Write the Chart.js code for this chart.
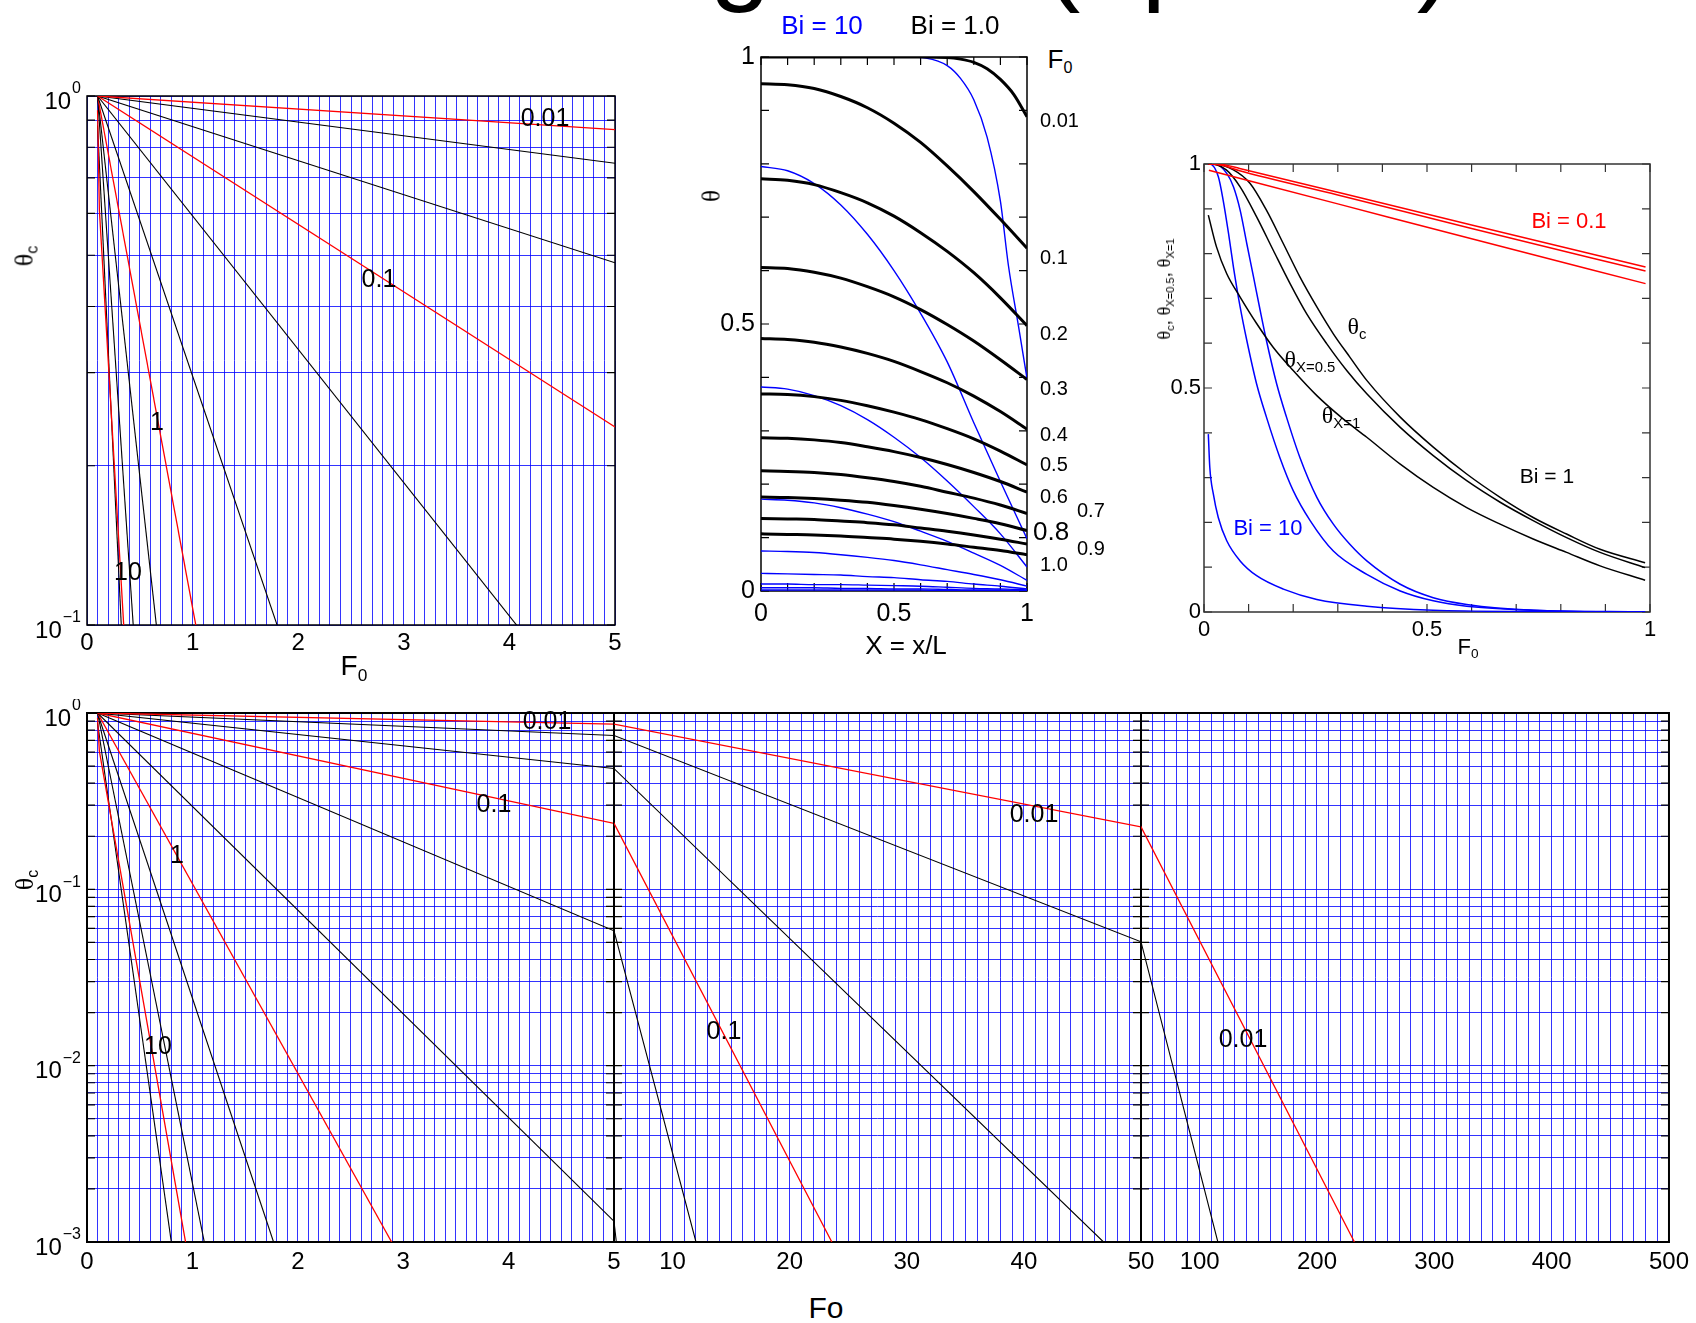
<!DOCTYPE html>
<html lang="fr">
<head>
<meta charset="utf-8">
<title>Diagrammes de Heisler - plaque</title>
<script src="https://cdn.jsdelivr.net/npm/chart.js@4.4.1/dist/chart.umd.min.js"></script>
<style>
  html, body { margin: 0; padding: 0; background: #fff; }
  body { position: relative; width: 1696px; height: 1323px; overflow: hidden;
         font-family: "Liberation Sans", Arial, Helvetica, sans-serif; color: #000; }
  .bloc { position: absolute; }
  .txt { position: absolute; white-space: nowrap; line-height: 1; transform: translate(-50%, -50%); }
  .gr { font-family: "Liberation Serif", "DejaVu Serif", serif; }
  .sb { font-size: 0.62em; position: relative; top: 0.32em; }
  #titre { position: absolute; left: 398px; top: -103px; font-size: 110px; line-height: 1;
           white-space: nowrap; word-spacing: 11px; }
</style>
</head>
<body>
<div id="titre">Cooling Plot (update)</div>
<script>
Chart.defaults.font.family = '"Liberation Sans", Arial, Helvetica, sans-serif';
Chart.defaults.color = '#000';

const ROUGE = '#ff0000';
const NOIR = '#000000';
const BLEU = '#0000ff';
const GRILLE = 'rgba(0, 0, 255, 0.8)';

// semi-log : θc en fonction de Fo, une droite par Bi
const foBi001 = [0.1, 5, 50, 231.9];  const thBi001 = [1, 0.864, 0.226, 0.001];
const foBi002 = [0.1, 5, 50, 115.5];  const thBi002 = [1, 0.746, 0.0504, 0.001];
const foBi005 = [0.1, 5, 46.8];       const thBi005 = [1, 0.484, 0.001];
const foBi01 = [0.1, 5, 23.6];        const thBi01 = [1, 0.2367, 0.001];
const foBi02 = [0.1, 5, 12.0];        const thBi02 = [1, 0.0582, 0.001];
const foBi05 = [0.1, 5.2];            const thBi05 = [1, 0.001];
const foBi1 = [0.1, 2.89];            const thBi1 = [1, 0.001];
const foBi2 = [0.1, 1.77];            const thBi2 = [1, 0.001];
const foBi5 = [0.1, 1.113];           const thBi5 = [1, 0.001];
const foBi10 = [0.1, 0.117, 0.935];   const thBi10 = [0.94, 0.61, 0.001];
const foBi100 = [0.1, 0.80];          const thBi100 = [0.88, 0.001];

const etiqFoCourt = [0, 1, 2, 3, 4, 5];
const etiqFoMoyen = [10, 20, 30, 40, 50];
const etiqFoLong = [100, 200, 300, 400, 500];
const decadesHaut = [1, 0.1];               const exposantsHaut = ['0', '\u22121'];
const decadesBas = [1, 0.1, 0.01, 0.001];   const exposantsBas = ['0', '\u22121', '\u22122', '\u22123'];

// profils θ(X) au milieu : Bi = 1.0 (noir) et Bi = 10 (bleu)
const posX = [0, 0.1, 0.2, 0.3, 0.4, 0.5, 0.6, 0.7, 0.8, 0.9, 1];
const posXN001 = [0, 0.5, 0.6, 0.7, 0.75, 0.8, 0.85, 0.9, 0.95, 1];
const pN001 = [1, 1, 1, 0.999, 0.996, 0.99, 0.978, 0.958, 0.93, 0.888];
const pN01 = [0.950, 0.948, 0.941, 0.926, 0.905, 0.876, 0.840, 0.796, 0.748, 0.696, 0.642];
const pN02 = [0.772, 0.769, 0.761, 0.746, 0.727, 0.702, 0.671, 0.636, 0.596, 0.549, 0.497];
const pN03 = [0.606, 0.604, 0.597, 0.586, 0.570, 0.551, 0.527, 0.499, 0.468, 0.433, 0.396];
const pN04 = [0.473, 0.471, 0.466, 0.457, 0.445, 0.430, 0.411, 0.390, 0.365, 0.336, 0.303];
const pN05 = [0.369, 0.368, 0.364, 0.357, 0.347, 0.335, 0.321, 0.304, 0.285, 0.262, 0.236];
const pN06 = [0.287, 0.286, 0.283, 0.278, 0.270, 0.261, 0.250, 0.237, 0.222, 0.205, 0.185];
const pN07 = [0.225, 0.224, 0.222, 0.218, 0.212, 0.205, 0.196, 0.185, 0.174, 0.161, 0.145];
const pN08 = [0.176, 0.175, 0.173, 0.170, 0.166, 0.160, 0.153, 0.145, 0.136, 0.126, 0.113];
const pN09 = [0.136, 0.135, 0.134, 0.131, 0.128, 0.124, 0.118, 0.112, 0.105, 0.097, 0.088];
const pN10 = [0.107, 0.106, 0.105, 0.103, 0.100, 0.097, 0.093, 0.088, 0.082, 0.076, 0.068];
const posXB001 = [0, 0.55, 0.62, 0.7, 0.75, 0.8, 0.85, 0.9, 0.93, 0.97, 1];
const pB001 = [1, 1, 0.998, 0.984, 0.96, 0.92, 0.85, 0.73, 0.61, 0.49, 0.398];
const pB01 = [0.795, 0.787, 0.763, 0.723, 0.668, 0.600, 0.520, 0.429, 0.315, 0.205, 0.098];
const pB02 = [0.382, 0.378, 0.366, 0.347, 0.321, 0.288, 0.250, 0.206, 0.158, 0.107, 0.045];
const pB03 = [0.172, 0.170, 0.165, 0.156, 0.144, 0.130, 0.112, 0.093, 0.071, 0.048, 0.020];
const pB04 = [0.075, 0.074, 0.072, 0.068, 0.063, 0.057, 0.049, 0.040, 0.031, 0.021, 0.009];
const pB05 = [0.033, 0.032, 0.031, 0.030, 0.027, 0.025, 0.021, 0.018, 0.013, 0.009, 0.004];
const pB06 = [0.013, 0.013, 0.012, 0.012, 0.011, 0.010, 0.009, 0.007, 0.005, 0.004, 0.002];
const pB07 = [0.006, 0.006, 0.006, 0.005, 0.005, 0.004, 0.004, 0.003, 0.002, 0.002, 0.001];
const pB08 = [0.002, 0.002, 0.002, 0.002, 0.002, 0.002, 0.002, 0.001, 0.001, 0.001, 0.000];

// à droite : θc, θX=0.5, θX=1 en fonction de F0
const foRc = [0.01, 0.04, 0.08, 0.3, 0.6, 0.99];   const thRc = [1.0, 0.999, 0.99, 0.937, 0.864, 0.770];
const foR05 = [0.01, 0.04, 0.08, 0.3, 0.6, 0.99];  const thR05 = [1.0, 0.997, 0.985, 0.931, 0.856, 0.761];
const foR1 = [0.011, 0.3, 0.6, 0.99];              const thR1 = [0.986, 0.911, 0.833, 0.733];
const foNc = [0.01, 0.021, 0.066, 0.103, 0.14, 0.178, 0.215, 0.253, 0.29, 0.327, 0.365, 0.44, 0.514, 0.589, 0.664, 0.738, 0.813, 0.888, 0.989];
const thNc = [1.0, 1.0, 0.987, 0.957, 0.897, 0.822, 0.748, 0.681, 0.621, 0.569, 0.517, 0.435, 0.368, 0.308, 0.256, 0.211, 0.174, 0.140, 0.110];
const foN05 = [0.01, 0.013, 0.05, 0.081, 0.118, 0.155, 0.193, 0.23, 0.275, 0.32, 0.365, 0.44, 0.514, 0.589, 0.664, 0.738, 0.813, 0.888, 0.989];
const thN05 = [1.0, 1.0, 0.987, 0.949, 0.882, 0.808, 0.733, 0.666, 0.599, 0.539, 0.487, 0.412, 0.349, 0.293, 0.245, 0.204, 0.166, 0.133, 0.099];
const foN1 = [0.0097, 0.028, 0.051, 0.081, 0.118, 0.155, 0.2, 0.253, 0.312, 0.365, 0.44, 0.514, 0.589, 0.664, 0.738, 0.813, 0.888, 0.989];
const thN1 = [0.886, 0.815, 0.755, 0.703, 0.644, 0.591, 0.539, 0.483, 0.431, 0.39, 0.33, 0.278, 0.233, 0.196, 0.163, 0.133, 0.103, 0.071];
const foBc = [0.01, 0.025, 0.051, 0.066, 0.081, 0.096, 0.111, 0.126, 0.14, 0.163, 0.185, 0.215, 0.253, 0.29, 0.327, 0.365, 0.44, 0.514, 0.589, 0.738, 0.989];
const thBc = [1.0, 1.0, 0.979, 0.949, 0.897, 0.822, 0.748, 0.673, 0.606, 0.509, 0.435, 0.345, 0.256, 0.196, 0.151, 0.114, 0.062, 0.032, 0.017, 0.004, 0.0];
const foB05 = [0.01, 0.013, 0.032, 0.043, 0.055, 0.066, 0.081, 0.096, 0.118, 0.14, 0.17, 0.2, 0.238, 0.29, 0.365, 0.44, 0.514, 0.589, 0.738, 0.989];
const thB05 = [1.0, 1.0, 0.972, 0.919, 0.845, 0.77, 0.681, 0.606, 0.509, 0.435, 0.345, 0.271, 0.204, 0.136, 0.084, 0.047, 0.025, 0.013, 0.004, 0.0];
const foB1 = [0.0097, 0.013, 0.021, 0.032, 0.051, 0.081, 0.118, 0.178, 0.253, 0.365, 0.514, 0.738, 0.989];
const thB1 = [0.397, 0.323, 0.263, 0.211, 0.159, 0.114, 0.081, 0.051, 0.028, 0.013, 0.004, 0.001, 0.0];

function grille(debut, fin, pas) {
  const n = Math.round((fin - debut) / pas);
  return Array.from({ length: n + 1 }, (_, i) => +(debut + i * pas).toFixed(4));
}
function grilleLog(decMin, decMax) {
  const t = [];
  for (let d = decMin; d < decMax; d++) {
    for (let k = 1; k <= 9; k++) t.push(+(k * Math.pow(10, d)).toPrecision(3));
  }
  t.push(Math.pow(10, decMax));
  return t;
}

function trace(xs, ys, couleur, epaisseur, lisse) {
  return {
    data: xs.map((x, i) => ({ x, y: ys[i] })),
    showLine: true, borderColor: couleur, borderWidth: epaisseur,
    pointRadius: 0, fill: false,
    cubicInterpolationMode: lisse ? 'monotone' : 'default', tension: 0
  };
}

function droitesLog() {
  return [
    trace(foBi001, thBi001, ROUGE, 1.3), trace(foBi002, thBi002, NOIR, 1.1),
    trace(foBi005, thBi005, NOIR, 1.1), trace(foBi01, thBi01, ROUGE, 1.3),
    trace(foBi02, thBi02, NOIR, 1.1), trace(foBi05, thBi05, NOIR, 1.1),
    trace(foBi1, thBi1, ROUGE, 1.3), trace(foBi2, thBi2, NOIR, 1.1),
    trace(foBi5, thBi5, NOIR, 1.1), trace(foBi10, thBi10, ROUGE, 1.3),
    trace(foBi100, thBi100, NOIR, 1.1)
  ];
}

// cadre noir, petites graduations intérieures et étiquettes 10^n
const cadrePlugin = {
  id: 'cadre',
  beforeDatasetsDraw(chart, args, o) {
    const { ctx, chartArea: a } = chart;
    ctx.save();
    ctx.strokeStyle = o.couleur || '#000';
    ctx.lineWidth = o.epaisseur || 1.5;
    ctx.strokeRect(a.left, a.top, a.right - a.left, a.bottom - a.top);
    const L = o.longueur || 8;
    ctx.lineWidth = 1.2;
    ctx.beginPath();
    (o.ticksY || []).forEach(v => {
      const p = chart.scales.y.getPixelForValue(v);
      ctx.moveTo(a.left, p); ctx.lineTo(a.left + L, p);
      ctx.moveTo(a.right, p); ctx.lineTo(a.right - L, p);
    });
    (o.ticksX || []).forEach(v => {
      const p = chart.scales.x.getPixelForValue(v);
      ctx.moveTo(p, a.top); ctx.lineTo(p, a.top + L);
      ctx.moveTo(p, a.bottom); ctx.lineTo(p, a.bottom - L);
    });
    ctx.stroke();
    if (o.decades) {
      ctx.fillStyle = '#000';
      ctx.textBaseline = 'middle';
      o.decades.forEach((v, i) => {
        const p = chart.scales.y.getPixelForValue(v);
        const e = o.exposants[i];
        ctx.font = '16px "Liberation Sans", Arial, sans-serif';
        const xe = a.left - 6 - ctx.measureText(e).width;
        ctx.textAlign = 'left';
        ctx.fillText(e, xe, p - 7);
        ctx.font = '24px "Liberation Sans", Arial, sans-serif';
        ctx.textAlign = 'right';
        ctx.fillText('10', xe - 1, p + 6);
      });
    }
    ctx.restore();
  }
};

function axeLineaire(min, max, valeurs, etiquettes, taille, ecart, grilleVisible) {
  return {
    type: 'linear', min, max,
    afterBuildTicks: s => { s.ticks = valeurs.map(v => ({ value: v })); },
    ticks: {
      autoSkip: false, maxRotation: 0, minRotation: 0, font: { size: taille }, padding: ecart,
      callback: v => etiquettes.includes(v) ? String(v) : ''
    },
    grid: { display: grilleVisible, color: GRILLE, lineWidth: 1, drawTicks: false },
    border: { display: false }
  };
}
function axeLog(min, max, valeurs) {
  return {
    type: 'logarithmic', min, max,
    afterBuildTicks: s => { s.ticks = valeurs.map(v => ({ value: v })); },
    ticks: { display: false },
    grid: { color: GRILLE, lineWidth: 1, drawTicks: false },
    border: { display: false }
  };
}

function graphique(cadre, marge, datasets, axeX, axeY, optCadre) {
  const div = document.createElement('div');
  div.className = 'bloc';
  div.style.left = (cadre.g - marge.g) + 'px';
  div.style.top = (cadre.h - marge.h) + 'px';
  div.style.width = (cadre.d - cadre.g + marge.g + marge.d) + 'px';
  div.style.height = (cadre.b - cadre.h + marge.h + marge.b) + 'px';
  const canvas = document.createElement('canvas');
  div.appendChild(canvas);
  document.body.appendChild(div);
  return new Chart(canvas, {
    type: 'scatter',
    data: { datasets },
    options: {
      responsive: true,
      maintainAspectRatio: false,
      animation: false,
      events: [],
      layout: { padding: { left: 0, top: marge.h, right: marge.d, bottom: 0 } },
      plugins: { legend: { display: false }, tooltip: { enabled: false }, cadre: optCadre },
      scales: {
        x: Object.assign({ afterFit: s => { s.height = marge.b; } }, axeX),
        y: Object.assign({ afterFit: s => { s.width = marge.g; } }, axeY)
      }
    },
    plugins: [cadrePlugin]
  });
}

function texte(html, x, y, taille, couleur, rotation, gauche) {
  const d = document.createElement('div');
  d.className = 'txt';
  d.innerHTML = html;
  d.style.left = x + 'px';
  d.style.top = y + 'px';
  d.style.fontSize = taille + 'px';
  d.style.color = couleur || '#000';
  if (gauche) d.style.transform = 'translate(0, -50%)';
  if (rotation) d.style.transform = 'translate(-50%, -50%) rotate(' + rotation + 'deg)';
  document.body.appendChild(d);
}

// ---- en haut à gauche : semi-log 0..5
const grilleY1 = grilleLog(-1, 0);
graphique({ g: 87, h: 96, d: 615, b: 625 }, { g: 87, h: 20, d: 20, b: 45 }, droitesLog(),
  axeLineaire(0, 5, grille(0, 5, 0.1), etiqFoCourt, 24, 4, true),
  axeLog(0.1, 1, grilleY1),
  { ticksY: grilleY1, decades: decadesHaut, exposants: exposantsHaut });

// ---- en bas : trois tronçons 0-5, 5-50, 50-500
const grilleY2 = grilleLog(-3, 0);
graphique({ g: 87, h: 713, d: 614, b: 1242 }, { g: 87, h: 14, d: 16, b: 45 }, droitesLog(),
  axeLineaire(0, 5, grille(0, 5, 0.1), etiqFoCourt, 24, 6, true),
  axeLog(0.001, 1, grilleY2),
  { epaisseur: 2, ticksY: grilleY2, decades: decadesBas, exposants: exposantsBas });
graphique({ g: 614, h: 713, d: 1141, b: 1242 }, { g: 10, h: 14, d: 24, b: 45 }, droitesLog(),
  axeLineaire(5, 50, grille(5, 50, 1), etiqFoMoyen, 24, 6, true),
  axeLog(0.001, 1, grilleY2),
  { epaisseur: 2, ticksY: grilleY2 });
graphique({ g: 1141, h: 713, d: 1671, b: 1242 }, { g: 10, h: 14, d: 24, b: 45 }, droitesLog(),
  axeLineaire(50, 500, grille(50, 500, 10), etiqFoLong, 24, 6, true),
  axeLog(0.001, 1, grilleY2),
  { epaisseur: 2, ticksY: grilleY2 });

// ---- au milieu : profils θ(X)
const profilsNoirs = [pN01, pN02, pN03, pN04, pN05, pN06, pN07, pN08, pN09, pN10];
const profilsBleus = [pB01, pB02, pB03, pB04, pB05, pB06, pB07, pB08];
const jeuxMilieu = [trace(posXN001, pN001, NOIR, 3, true)]
  .concat(profilsNoirs.map(p => trace(posX, p, NOIR, 3, true)))
  .concat([trace(posXB001, pB001, BLEU, 1.4, true)])
  .concat(profilsBleus.map(p => trace(posX, p, BLEU, 1.4, true)));
graphique({ g: 761, h: 57, d: 1027, b: 591 }, { g: 50, h: 25, d: 20, b: 40 }, jeuxMilieu,
  axeLineaire(0, 1, [0, 0.5, 1], [0, 0.5, 1], 25, 8, false),
  axeLineaire(0, 1, [0, 0.5, 1], [0, 0.5, 1], 25, 6, false),
  { ticksX: grille(0, 1, 0.1), ticksY: grille(0, 1, 0.1), longueur: 8 });

// ---- à droite : θ en fonction de F0 pour Bi = 0.1, 1, 10
const jeuxDroite = [
  trace(foRc, thRc, ROUGE, 1.5, true), trace(foR05, thR05, ROUGE, 1.5, true), trace(foR1, thR1, ROUGE, 1.5, true),
  trace(foNc, thNc, NOIR, 1.5, true), trace(foN05, thN05, NOIR, 1.5, true), trace(foN1, thN1, NOIR, 1.5, true),
  trace(foBc, thBc, BLEU, 1.5, true), trace(foB05, thB05, BLEU, 1.5, true), trace(foB1, thB1, BLEU, 1.5, true)
];
graphique({ g: 1204, h: 164, d: 1650, b: 612 }, { g: 40, h: 20, d: 20, b: 35 }, jeuxDroite,
  axeLineaire(0, 1, [0, 0.5, 1], [0, 0.5, 1], 22, 5, false),
  axeLineaire(0, 1, [0, 0.5, 1], [0, 0.5, 1], 22, 3, false),
  { couleur: '#333', ticksX: grille(0, 1, 0.1), ticksY: grille(0, 1, 0.1), longueur: 8 });

// ---- textes
const TH = '<span class="gr">\u03b8</span>';
texte(TH + '<span class="sb">c</span>', 24, 256, 26, NOIR, -90);
texte('F<span class="sb">0</span>', 354, 666, 28);
texte('0.01', 545, 117, 25);
texte('0.1', 379, 278, 25);
texte('1', 157, 421, 25);
texte('10', 128, 571, 25);

texte('Bi = 10', 822, 25, 26, BLEU);
texte('Bi = 1.0', 955, 25, 26);
texte('F<span class="sb">0</span>', 1060, 59, 26);
[['0.01', 120], ['0.1', 257], ['0.2', 333], ['0.3', 388], ['0.4', 434], ['0.5', 464], ['0.6', 496], ['1.0', 564]]
  .forEach(([t, y]) => texte(t, 1040, y, 20, NOIR, 0, true));
texte('0.7', 1077, 510, 20, NOIR, 0, true);
texte('0.9', 1077, 548, 20, NOIR, 0, true);
texte('0.8', 1033, 531, 26, NOIR, 0, true);
texte(TH, 711, 196, 25, NOIR, -90);
texte('X = x/L', 906, 645, 26);

texte(TH + '<span class="sb">c</span>, ' + TH + '<span class="sb">X=0.5</span>, ' + TH + '<span class="sb">X=1</span>',
  1164, 289, 18, NOIR, -90);
texte('F<span class="sb">0</span>', 1468, 647, 22);
texte('Bi = 0.1', 1569, 221, 22, ROUGE);
texte(TH + '<span class="sb">c</span>', 1357, 326, 24);
texte(TH + '<span class="sb">X=0.5</span>', 1310, 359, 24);
texte(TH + '<span class="sb">X=1</span>', 1341, 415, 24);
texte('Bi = 1', 1547, 475, 21);
texte('Bi = 10', 1268, 528, 22, BLEU);

texte(TH + '<span class="sb">c</span>', 24, 880, 26, NOIR, -90);
texte('Fo', 826, 1308, 30);
texte('0.01', 547, 720, 25);
texte('0.1', 494, 803, 25);
texte('1', 177, 854, 25);
texte('10', 158, 1045, 25);
texte('0.1', 724, 1030, 25);
texte('0.01', 1034, 813, 25);
texte('0.01', 1243, 1038, 25);
</script>
</body>
</html>
